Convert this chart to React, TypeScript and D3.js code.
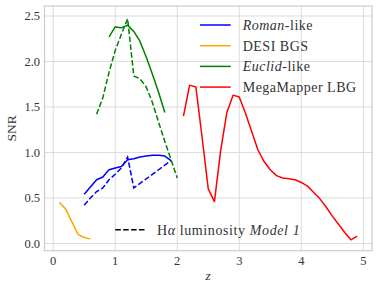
import React from 'react';
import * as d3 from 'd3';

// redshift grids and SNR values
const romanZ = [0.5, 0.6, 0.7, 0.8, 0.9, 1.0, 1.1, 1.2, 1.3, 1.4, 1.5, 1.6, 1.7, 1.8, 1.9];
const romanSolid = [0.54, 0.62, 0.70, 0.73, 0.81, 0.83, 0.845, 0.92, 0.93, 0.95, 0.96, 0.97, 0.97, 0.96, 0.91];
const romanDashed = [0.42, 0.50, 0.57, 0.61, 0.70, 0.76, 0.83, 0.95, 0.61, 0.66, 0.71, 0.76, 0.81, 0.86, 0.91];

const desiZ = [0.1, 0.2, 0.3, 0.4, 0.5, 0.6];
const desiSolid = [0.45, 0.38, 0.24, 0.10, 0.065, 0.05];

const euclidZ = [0.9, 1.0, 1.1, 1.2, 1.3, 1.4, 1.5, 1.6, 1.7, 1.8];
const euclidSolid = [2.27, 2.38, 2.37, 2.40, 2.33, 2.22, 2.05, 1.86, 1.66, 1.44];
const euclidDashedZ = [0.7, 0.8, 0.9, 1.0, 1.1, 1.2, 1.3, 1.4, 1.5, 1.6, 1.7, 1.8, 1.9, 2.0];
const euclidDashed = [1.42, 1.60, 1.88, 2.12, 2.30, 2.47, 1.84, 1.81, 1.72, 1.55, 1.33, 1.12, 0.92, 0.72];

const mmZ = [2.1, 2.2, 2.3, 2.4, 2.5, 2.6, 2.7, 2.8, 2.9, 3.0, 3.1, 3.2, 3.3, 3.4, 3.5, 3.6, 3.7, 3.8, 3.9,
  4.0, 4.1, 4.2, 4.3, 4.4, 4.5, 4.6, 4.7, 4.8, 4.9];
const mmSolid = [1.40, 1.74, 1.72, 1.17, 0.60, 0.46, 1.02, 1.44, 1.63, 1.61, 1.43, 1.23, 1.03, 0.90, 0.81, 0.745, 0.72, 0.71, 0.70,
  0.67, 0.63, 0.56, 0.49, 0.40, 0.30, 0.21, 0.12, 0.04, 0.08];

const xTicks = [0, 1, 2, 3, 4, 5];
const yTicks = [0, 0.5, 1, 1.5, 2, 2.5];

const W = 379, H = 291;
const FONT = '"Liberation Serif", serif';

const x = d3.scaleLinear([-0.14, 5.14], [44.5, 372]);
const y = d3.scaleLinear([-0.08, 2.61], [250.7, 6]);

const line = d3.line<[number, number]>().x(d => x(d[0])).y(d => y(d[1]));
const pairs = (zs: number[], vs: number[]) => zs.map((z, i) => [z, vs[i]] as [number, number]);

const series = [
  { z: romanZ, solid: romanSolid, color: '#0000ff' },
  { z: desiZ, solid: desiSolid, color: '#ffa500' },
  { z: euclidZ, solid: euclidSolid, color: '#008000' },
  { z: mmZ, solid: mmSolid, color: '#ff0000' },
];

const legendRows = [
  { color: '#0000ff', it: 'Roman', rest: '-like' },
  { color: '#ffa500', it: '', rest: 'DESI BGS' },
  { color: '#008000', it: 'Euclid', rest: '-like' },
  { color: '#ff0000', it: '', rest: 'MegaMapper LBG' },
];

export default function App() {
  const [x0, x1] = x.range();
  const [y0, y1] = y.range();
  return (
    <svg width={W} height={H} style={{ position: 'absolute', left: 0, top: 0, background: '#fff' }}
      fontFamily={FONT}>
      <rect x={x0} y={y1} width={x1 - x0} height={y0 - y1} fill="#fff" />
      {xTicks.map(t => (
        <line key={'gx' + t} x1={x(t)} x2={x(t)} y1={y1} y2={y0} stroke="#dcdcdc" strokeWidth={1} />
      ))}
      {yTicks.map(t => (
        <line key={'gy' + t} x1={x0} x2={x1} y1={y(t)} y2={y(t)} stroke="#dcdcdc" strokeWidth={1} />
      ))}
      <rect x={x0} y={y1} width={x1 - x0} height={y0 - y1} fill="none" stroke="#cccccc" strokeWidth={1.2} />

      {xTicks.map(t => (
        <text key={'tx' + t} x={x(t)} y={265} textAnchor="middle" fontSize={12.5} fill="#333">{t}</text>
      ))}
      {yTicks.map(t => (
        <text key={'ty' + t} x={40} y={y(t) + 4.3} textAnchor="end" fontSize={12.5} fill="#333">{t.toFixed(1)}</text>
      ))}
      <text transform={`translate(16,${(y0 + y1) / 2}) rotate(-90)`} textAnchor="middle" fontSize={13.5} fill="#333">SNR</text>
      <text x={(x0 + x1) / 2} y={280} textAnchor="middle" fontSize={13.5} fontStyle="italic" fill="#333">z</text>

      {series.map((s, i) => (
        <path key={i} d={line(pairs(s.z, s.solid)) ?? ''} fill="none" stroke={s.color} strokeWidth={1.5} strokeLinejoin="round" />
      ))}
      <path d={line(pairs(romanZ, romanDashed)) ?? ''} fill="none" stroke="#0000ff" strokeWidth={1.5} strokeDasharray="5.5,2.4" />
      <path d={line(pairs(euclidDashedZ, euclidDashed)) ?? ''} fill="none" stroke="#008000" strokeWidth={1.5} strokeDasharray="5.5,2.4" />

      {legendRows.map((r, i) => {
        const ly = 25 + i * 20.7;
        return (
          <g key={r.rest + i}>
            <line x1={200} x2={230.7} y1={ly} y2={ly} stroke={r.color} strokeWidth={1.5} />
            <text x={242.7} y={ly + 4.8} fontSize={14} letterSpacing={0.5} fill="#333">
              {r.it && <tspan fontStyle="italic">{r.it}</tspan>}
              {r.rest}
            </text>
          </g>
        );
      })}

      <line x1={115.3} x2={145.3} y1={229.7} y2={229.7} stroke="#000" strokeWidth={1.5} strokeDasharray="5.5,2.4" />
      <text x={157} y={234.5} fontSize={14} letterSpacing={0.6} fill="#333">
        H<tspan fontStyle="italic">α</tspan> luminosity <tspan fontStyle="italic">Model 1</tspan>
      </text>
    </svg>
  );
}
